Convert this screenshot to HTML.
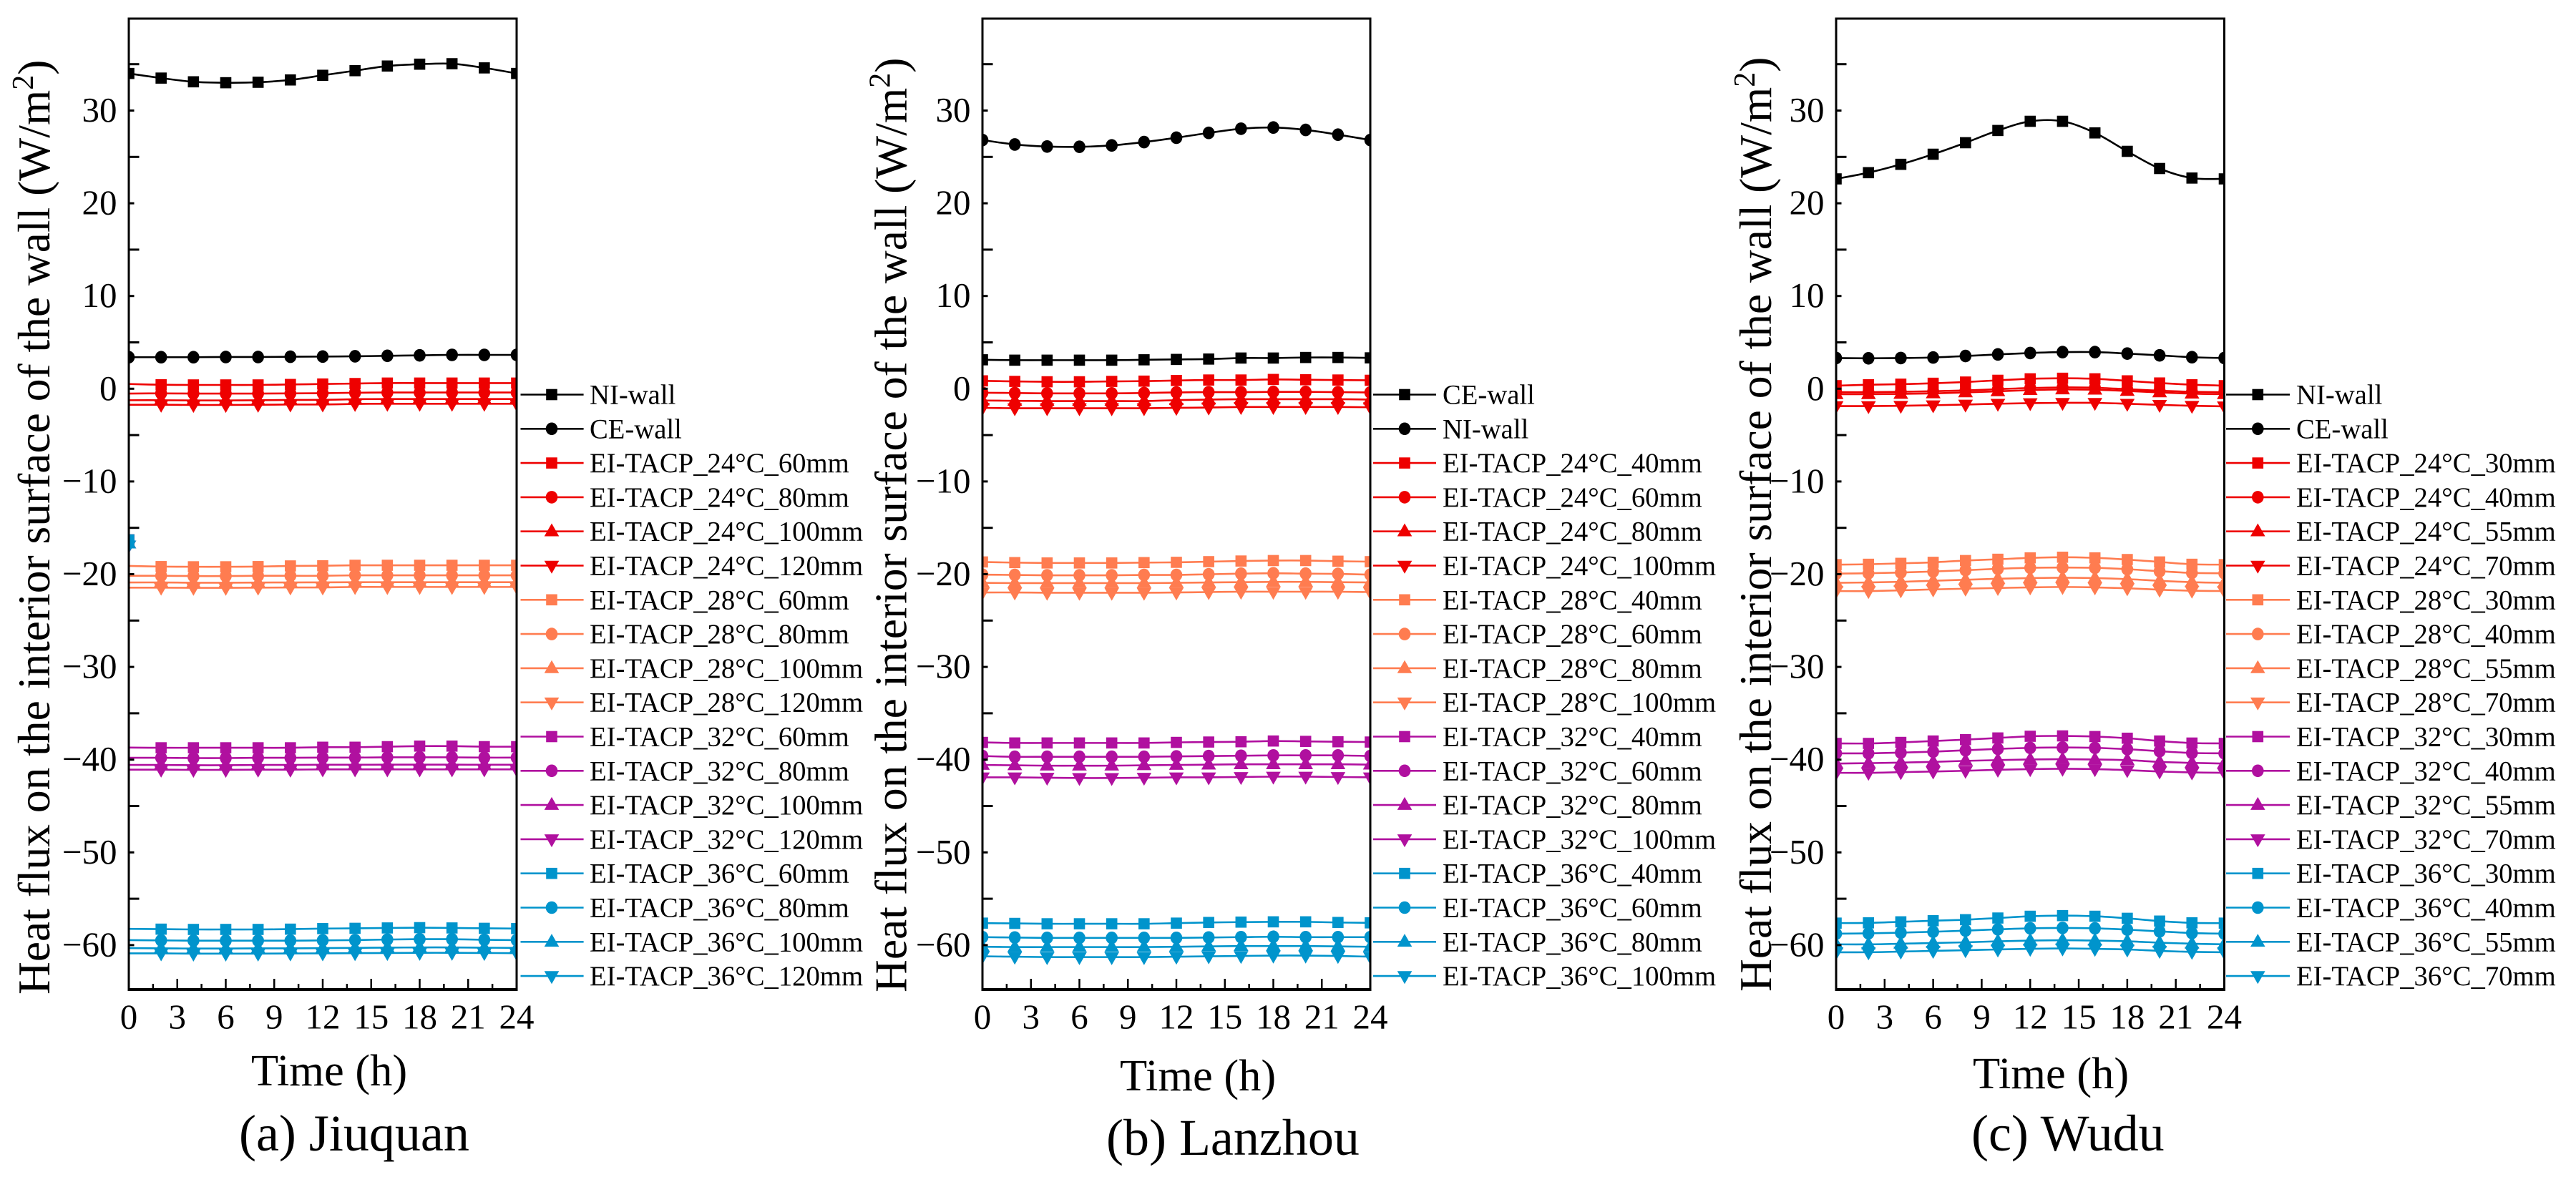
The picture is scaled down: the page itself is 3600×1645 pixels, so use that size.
<!DOCTYPE html>
<html lang="en">
<head>
<meta charset="utf-8">
<title>Heat flux on the interior surface of the wall</title>
<style>
html,body{margin:0;padding:0;background:#fff;width:3600px;height:1645px;overflow:hidden}
svg{display:block}
text{font-family:"Liberation Serif","Times New Roman",serif;fill:#000}
</style>
</head>
<body>
<svg id="figure" xmlns="http://www.w3.org/2000/svg" width="3600" height="1645" viewBox="0 0 3600 1645"></svg>
<script>
const hours=[0,2,4,6,8,10,12,14,16,18,20,22,24];
const xTickLabels=[0,3,6,9,12,15,18,21,24];
const yTickLabels=[30,20,10,0,-10,-20,-30,-40,-50,-60];
const yMinorTicks=[35,25,15,5,-5,-15,-25,-35,-45,-55];

const aNi=[34.0,33.5,33.1,33.0,33.05,33.3,33.8,34.3,34.8,35.0,35.05,34.6,34.0];
const aCe=[3.4,3.4,3.4,3.42,3.42,3.45,3.47,3.5,3.55,3.6,3.65,3.65,3.65];
const a24_60=[0.51,0.43,0.41,0.41,0.41,0.46,0.51,0.56,0.61,0.61,0.61,0.61,0.61];
const a24_80=[-0.52,-0.5,-0.52,-0.52,-0.52,-0.5,-0.48,-0.43,-0.41,-0.41,-0.41,-0.41,-0.41];
const a24_100=[-1.24,-1.24,-1.26,-1.26,-1.24,-1.21,-1.2,-1.13,-1.11,-1.11,-1.11,-1.11,-1.11];
const a24_120=[-1.73,-1.73,-1.75,-1.75,-1.73,-1.7,-1.7,-1.64,-1.62,-1.62,-1.62,-1.62,-1.62];
const a28_60=[-19.11,-19.18,-19.2,-19.2,-19.18,-19.11,-19.09,-19.04,-19.04,-19.04,-19.04,-19.04,-19.04];
const a28_80=[-20.17,-20.17,-20.2,-20.2,-20.17,-20.17,-20.17,-20.12,-20.12,-20.12,-20.12,-20.12,-20.12];
const a28_100=[-20.89,-20.89,-20.92,-20.92,-20.9,-20.89,-20.88,-20.86,-20.86,-20.86,-20.86,-20.86,-20.86];
const a28_120=[-21.45,-21.45,-21.47,-21.47,-21.45,-21.43,-21.43,-21.38,-21.38,-21.38,-21.38,-21.38,-21.38];
const a32_60=[-38.7,-38.72,-38.72,-38.72,-38.72,-38.72,-38.66,-38.66,-38.6,-38.54,-38.54,-38.6,-38.6];
const a32_80=[-39.8,-39.8,-39.83,-39.83,-39.8,-39.8,-39.78,-39.78,-39.75,-39.75,-39.75,-39.78,-39.78];
const a32_100=[-40.57,-40.57,-40.6,-40.6,-40.57,-40.57,-40.55,-40.55,-40.54,-40.54,-40.54,-40.55,-40.55];
const a32_120=[-41.08,-41.08,-41.1,-41.1,-41.08,-41.08,-41.05,-41.05,-41.05,-41.05,-41.05,-41.05,-41.05];
const a36_60=[-58.25,-58.28,-58.31,-58.31,-58.31,-58.28,-58.22,-58.19,-58.15,-58.12,-58.15,-58.19,-58.22];
const a36_80=[-59.46,-59.49,-59.52,-59.52,-59.52,-59.52,-59.49,-59.46,-59.4,-59.36,-59.36,-59.43,-59.46];
const a36_100=[-60.32,-60.35,-60.37,-60.37,-60.35,-60.35,-60.32,-60.3,-60.27,-60.25,-60.25,-60.28,-60.3];
const a36_120=[-60.89,-60.89,-60.92,-60.92,-60.92,-60.9,-60.89,-60.87,-60.85,-60.83,-60.83,-60.85,-60.87];
const aStrayMarkerValues=[-16.3,-16.5,-16.7,-16.9];

const bCe=[3.12,3.08,3.08,3.08,3.08,3.12,3.16,3.2,3.31,3.31,3.37,3.37,3.33];
const bNi=[26.82,26.34,26.12,26.09,26.24,26.6,27.07,27.59,28.04,28.17,27.91,27.4,26.82];
const b24_40=[0.85,0.79,0.75,0.75,0.79,0.82,0.89,0.94,0.94,1.0,0.97,0.94,0.91];
const b24_60=[-0.43,-0.46,-0.5,-0.5,-0.5,-0.46,-0.4,-0.37,-0.37,-0.34,-0.34,-0.37,-0.4];
const b24_80=[-1.27,-1.3,-1.33,-1.33,-1.33,-1.33,-1.23,-1.17,-1.13,-1.13,-1.13,-1.13,-1.17];
const b24_100=[-2.06,-2.1,-2.1,-2.1,-2.1,-2.1,-2.06,-2.03,-1.97,-1.97,-1.97,-1.97,-2.0];
const b28_40=[-18.68,-18.75,-18.79,-18.79,-18.79,-18.75,-18.72,-18.65,-18.58,-18.53,-18.53,-18.6,-18.65];
const b28_60=[-20.05,-20.08,-20.12,-20.12,-20.12,-20.08,-20.08,-20.01,-19.94,-19.9,-19.94,-19.97,-20.05];
const b28_80=[-20.93,-20.96,-20.96,-20.96,-20.96,-20.96,-20.93,-20.89,-20.86,-20.83,-20.83,-20.86,-20.89];
const b28_100=[-21.97,-21.97,-22.0,-22.0,-22.0,-22.0,-21.97,-21.93,-21.89,-21.89,-21.89,-21.89,-21.93];
const b32_40=[-38.14,-38.2,-38.2,-38.2,-38.2,-38.2,-38.14,-38.1,-38.07,-37.99,-38.03,-38.07,-38.1];
const b32_60=[-39.61,-39.69,-39.69,-39.69,-39.69,-39.69,-39.65,-39.61,-39.58,-39.54,-39.54,-39.54,-39.61];
const b32_80=[-40.57,-40.61,-40.65,-40.65,-40.65,-40.61,-40.57,-40.54,-40.5,-40.5,-40.5,-40.5,-40.54];
const b32_100=[-41.91,-41.91,-41.95,-41.98,-41.98,-41.95,-41.91,-41.91,-41.87,-41.83,-41.83,-41.87,-41.91];
const b36_40=[-57.63,-57.66,-57.7,-57.7,-57.7,-57.7,-57.63,-57.56,-57.52,-57.49,-57.49,-57.56,-57.6];
const b36_60=[-59.14,-59.18,-59.22,-59.22,-59.22,-59.22,-59.22,-59.18,-59.14,-59.1,-59.14,-59.14,-59.14];
const b36_80=[-60.18,-60.21,-60.21,-60.21,-60.21,-60.21,-60.18,-60.14,-60.1,-60.1,-60.1,-60.14,-60.18];
const b36_100=[-61.21,-61.25,-61.29,-61.29,-61.29,-61.29,-61.25,-61.21,-61.17,-61.13,-61.13,-61.17,-61.25];

const cNi=[22.63,23.3,24.2,25.29,26.53,27.85,28.84,28.84,27.59,25.6,23.75,22.72,22.63];
const cCe=[3.31,3.28,3.31,3.37,3.53,3.7,3.85,3.95,3.95,3.79,3.6,3.4,3.31];
const c24_30=[0.33,0.43,0.49,0.59,0.72,0.91,1.07,1.13,1.07,0.85,0.62,0.43,0.33];
const c24_40=[-0.37,-0.37,-0.33,-0.27,-0.18,-0.05,0.08,0.14,0.11,-0.05,-0.21,-0.33,-0.37];
const c24_55=[-0.59,-0.59,-0.56,-0.5,-0.4,-0.28,-0.15,-0.08,-0.11,-0.24,-0.4,-0.53,-0.59];
const c24_70=[-1.87,-1.87,-1.84,-1.78,-1.71,-1.62,-1.55,-1.52,-1.52,-1.62,-1.74,-1.84,-1.9];
const c28_30=[-18.97,-18.93,-18.83,-18.72,-18.53,-18.39,-18.24,-18.17,-18.24,-18.42,-18.68,-18.93,-18.97];
const c28_40=[-19.94,-19.9,-19.82,-19.71,-19.57,-19.42,-19.31,-19.28,-19.31,-19.46,-19.68,-19.86,-19.9];
const c28_55=[-20.93,-20.89,-20.82,-20.71,-20.6,-20.49,-20.42,-20.38,-20.42,-20.53,-20.71,-20.86,-20.93];
const c28_70=[-21.82,-21.82,-21.74,-21.64,-21.56,-21.49,-21.42,-21.38,-21.42,-21.52,-21.67,-21.78,-21.82];
const c32_30=[-38.25,-38.25,-38.14,-37.99,-37.84,-37.66,-37.48,-37.44,-37.51,-37.69,-37.99,-38.21,-38.25];
const c32_40=[-39.32,-39.32,-39.24,-39.14,-38.99,-38.84,-38.73,-38.69,-38.73,-38.87,-39.09,-39.28,-39.32];
const c32_55=[-40.42,-40.38,-40.32,-40.24,-40.13,-40.05,-39.98,-39.95,-39.98,-40.05,-40.24,-40.35,-40.42];
const c32_70=[-41.42,-41.42,-41.35,-41.28,-41.2,-41.09,-41.02,-40.98,-41.02,-41.13,-41.28,-41.38,-41.42];
const c36_30=[-57.63,-57.6,-57.49,-57.37,-57.26,-57.08,-56.89,-56.82,-56.89,-57.11,-57.41,-57.6,-57.63];
const c36_40=[-58.77,-58.73,-58.66,-58.56,-58.44,-58.3,-58.19,-58.15,-58.19,-58.33,-58.52,-58.7,-58.77];
const c36_55=[-59.92,-59.92,-59.85,-59.77,-59.7,-59.59,-59.51,-59.47,-59.51,-59.59,-59.74,-59.85,-59.92];
const c36_70=[-60.77,-60.77,-60.7,-60.62,-60.55,-60.47,-60.4,-60.36,-60.4,-60.47,-60.62,-60.73,-60.77];

const wallColor='#000000';
const tempColors=['#EE0000','#FF7C50','#B0109F','#0094CC'];
const temps=['24','28','32','36'];
const shapes=['square','circle','triangle','down'];

const panelA={key:'a',left:180,right:722,caption:'(a) Jiuquan',capX:334,capY:1608,timeX:351,timeY:1517,titleX:69,titleY:1390,
  legendLine:[727.5,815.6],legendMarker:771,legendText:824,
  walls:[['NI-wall',aNi,'square'],['CE-wall',aCe,'circle']],
  thick:['60','80','100','120'],
  ei:[a24_60,a24_80,a24_100,a24_120,a28_60,a28_80,a28_100,a28_120,a32_60,a32_80,a32_100,a32_120,a36_60,a36_80,a36_100,a36_120],stray:aStrayMarkerValues};
const panelB={key:'b',left:1373,right:1915,caption:'(b) Lanzhou',capX:1546,capY:1614,timeX:1565,timeY:1524,titleX:1266.5,titleY:1387,
  legendLine:[1919,2007],legendMarker:1963,legendText:2016,
  walls:[['CE-wall',bCe,'square'],['NI-wall',bNi,'circle']],
  thick:['40','60','80','100'],
  ei:[b24_40,b24_60,b24_80,b24_100,b28_40,b28_60,b28_80,b28_100,b32_40,b32_60,b32_80,b32_100,b36_40,b36_60,b36_80,b36_100],stray:null};
const panelC={key:'c',left:2566,right:3108.5,caption:'(c) Wudu',capX:2755,capY:1608,timeX:2757,timeY:1521,titleX:2475,titleY:1386,
  legendLine:[3111,3200],legendMarker:3155.3,legendText:3209,
  walls:[['NI-wall',cNi,'square'],['CE-wall',cCe,'circle']],
  thick:['30','40','55','70'],
  ei:[c24_30,c24_40,c24_55,c24_70,c28_30,c28_40,c28_55,c28_70,c32_30,c32_40,c32_55,c32_70,c36_30,c36_40,c36_55,c36_70],stray:null};

const NS='http://www.w3.org/2000/svg';
const svgRoot=document.getElementById('figure');
const plotTop=26, plotBottom=1383, zeroY=543.3, pxPerUnit=12.96;
function yScale(v){return zeroY-v*pxPerUnit;}
function mk(tag,attrs,parent){
  const el=document.createElementNS(NS,tag);
  for(const k in attrs){el.setAttribute(k,attrs[k]);}
  parent.appendChild(el);
  return el;
}
function splinePath(pts){
  let d='M'+pts[0][0].toFixed(2)+' '+pts[0][1].toFixed(2);
  for(let i=0;i<pts.length-1;i++){
    const p0=pts[Math.max(i-1,0)],p1=pts[i],p2=pts[i+1],p3=pts[Math.min(i+2,pts.length-1)];
    const c1x=p1[0]+(p2[0]-p0[0])/6,c1y=p1[1]+(p2[1]-p0[1])/6;
    const c2x=p2[0]-(p3[0]-p1[0])/6,c2y=p2[1]-(p3[1]-p1[1])/6;
    d+=' C'+c1x.toFixed(2)+' '+c1y.toFixed(2)+' '+c2x.toFixed(2)+' '+c2y.toFixed(2)+' '+p2[0].toFixed(2)+' '+p2[1].toFixed(2);
  }
  return d;
}
function drawMarker(parent,shape,x,y,color){
  let el;
  if(shape==='square'){
    el=mk('rect',{x:x-7.8,y:y-7.8,width:15.6,height:15.6,fill:color},parent);
  }else if(shape==='circle'){
    el=mk('ellipse',{cx:x,cy:y,rx:8.3,ry:8.8,fill:color},parent);
  }else if(shape==='triangle'){
    el=mk('polygon',{points:(x-10.3)+','+(y+6.8)+' '+(x+10.3)+','+(y+6.8)+' '+x+','+(y-11.2),fill:color},parent);
  }else{
    el=mk('polygon',{points:(x-10.3)+','+(y-6.8)+' '+(x+10.3)+','+(y-6.8)+' '+x+','+(y+11.2),fill:color},parent);
  }
  
  
  return el;
}
function drawPanel(p){
  const g=mk('g',{},svgRoot);
  
  
  const xScale=h=>p.left+h*(p.right-p.left)/24;

  const clip=mk('clipPath',{id:'clip-'+p.key},g);
  mk('rect',{x:p.left,y:plotTop,width:p.right-p.left,height:plotBottom-plotTop},clip);

  const plot=mk('g',{'clip-path':'url(#clip-'+p.key+')'},g);
  
  

  function drawSeries(values,color,shape,name,strayValue){
    const s=mk('g',{},plot);
    
    
    const pts=values.map((v,i)=>[xScale(hours[i]),yScale(v)]);
    const line=mk('path',{d:splinePath(pts),fill:'none',stroke:color,'stroke-width':2.6},s);
    
    
    pts.forEach((pt,i)=>{
      const y=(i===0&&strayValue!==null)?yScale(strayValue):pt[1];
      drawMarker(s,shape,pt[0],y,color);
    });
  }
  p.walls.forEach(w=>drawSeries(w[1],wallColor,w[2],w[0].toLowerCase(),null));
  p.ei.forEach((vals,i)=>{
    const t=Math.floor(i/4),m=i%4;
    drawSeries(vals,tempColors[t],shapes[m],'ei-tacp-'+temps[t]+'-'+p.thick[m],p.stray?p.stray[m]:null);
  });

  const frame=mk('rect',{x:p.left,y:plotTop,width:p.right-p.left,height:plotBottom-plotTop,fill:'none',stroke:'#000','stroke-width':3},g);
  
  
  const base=mk('line',{x1:p.left-1.5,x2:p.right+1.5,y1:plotBottom,y2:plotBottom,stroke:'#000','stroke-width':4},g);
  
  

  yTickLabels.forEach(v=>{
    const y=yScale(v);
    const t=mk('line',{x1:p.left,x2:p.left+7.5,y1:y,y2:y,stroke:'#000','stroke-width':3},g);
    
    
    const label=mk('text',{x:p.left-16.5,y:y+15.5,'text-anchor':'end','font-size':49},g);
    label.textContent=(v<0?'\u2212':'')+Math.abs(v);
    
    
  });
  yMinorTicks.forEach(v=>{
    const y=yScale(v);
    const t=mk('line',{x1:p.left,x2:p.left+14.5,y1:y,y2:y,stroke:'#000','stroke-width':3},g);
    
    
  });
  xTickLabels.forEach((h,i)=>{
    const x=xScale(h);
    const t=mk('line',{x1:x,x2:x,y1:plotBottom,y2:plotBottom-15,stroke:'#000','stroke-width':2.5},g);
    
    
    const label=mk('text',{x:x,y:1437.5,'text-anchor':'middle','font-size':49},g);
    label.textContent=String(h);
    
    
    if(i<xTickLabels.length-1){
      const mx=xScale(h+1.5);
      const mt=mk('line',{x1:mx,x2:mx,y1:plotBottom,y2:plotBottom-8,stroke:'#000','stroke-width':2.5},g);
      
      
    }
  });

  const yTitle=mk('text',{transform:'translate('+p.titleX+' '+p.titleY+') rotate(-90)','font-size':63.5},g);
  
  
  const t1=mk('tspan',{},yTitle);
  t1.textContent='Heat flux on the interior surface of the wall (W/m';
  const t2=mk('tspan',{dy:-23,'font-size':42},yTitle);
  t2.textContent='2';
  const t3=mk('tspan',{dy:23},yTitle);
  t3.textContent=')';

  const xTitle=mk('text',{x:p.timeX,y:p.timeY,'font-size':62.5},g);
  xTitle.textContent='Time (h)';
  
  

  const cap=mk('text',{x:p.capX,y:p.capY,'font-size':72},g);
  cap.textContent=p.caption;
  
  

  const legend=mk('g',{},g);
  
  
  const entries=p.walls.map(w=>[w[0],wallColor,w[2]]);
  temps.forEach((t,ti)=>p.thick.forEach((th,mi)=>{
    entries.push(['EI-TACP_'+t+'\u00B0C_'+th+'mm',tempColors[ti],shapes[mi]]);
  }));
  entries.forEach((e,i)=>{
    const y=551.5+47.8*i;
    const item=mk('g',{},legend);
    
    
    mk('line',{x1:p.legendLine[0],x2:p.legendLine[1],y1:y,y2:y,stroke:e[1],'stroke-width':2.6},item);
    drawMarker(item,e[2],p.legendMarker,y,e[1]);
    const label=mk('text',{x:p.legendText,y:y+13,'font-size':38.7},item);
    label.textContent=e[0];
    
    
  });
}
[panelA,panelB,panelC].forEach(drawPanel);
</script>
</body>
</html>
